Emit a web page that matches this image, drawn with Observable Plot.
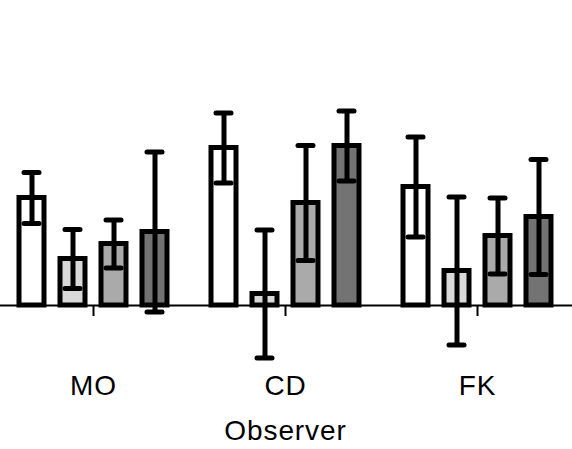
<!DOCTYPE html>
<html><head><meta charset="utf-8">
<script src="https://cdn.jsdelivr.net/npm/d3@7"></script>
<script src="https://cdn.jsdelivr.net/npm/@observablehq/plot@0.6"></script>
<style>body{margin:0;background:#fff;overflow:hidden}</style>
</head><body><div id="chart"></div>
<script>
const observers = ["MO", "CD", "FK"];
const conditions = ["A", "B", "C", "D"];
const fills = ["#ffffff", "#d9d9d9", "#aaaaaa", "#737373"];
const meanMO = [2.15, 0.93, 1.23, 1.47];
const errMO  = [0.51, 0.59, 0.48, 1.60];
const meanCD = [3.15, 0.23, 2.05, 3.19];
const errCD  = [0.70, 1.28, 1.15, 0.70];
const meanFK = [2.37, 0.69, 1.39, 1.77];
const errFK  = [1.00, 1.48, 0.76, 1.15];

const means = [meanMO, meanCD, meanFK];
const errs = [errMO, errCD, errFK];
const data = [];
observers.forEach((o, i) => conditions.forEach((c, j) => {
  data.push({observer: o, condition: c, mean: means[i][j], err: errs[i][j]});
}));

const chart = Plot.plot({
  width: 572,
  height: 449,
  marginTop: 0,
  marginLeft: 0,
  marginRight: 0,
  marginBottom: 144,
  style: {fontFamily: "'Liberation Sans', Arial, Helvetica, sans-serif", background: "#fff", letterSpacing: "0.9px"},
  fx: {domain: observers, range: [-4.25, 573.25], paddingInner: 0, paddingOuter: 0},
  x: {domain: conditions, range: [5.75, 185.75], padding: 0.39, axis: null},
  y: {domain: [-2, 6], range: [405, 5], axis: null},
  color: {domain: conditions, range: fills},
  marks: [
    Plot.barY(data, {fx: "observer", x: "condition", y: "mean", fill: "condition", stroke: "#000", strokeWidth: 5}),
    Plot.ruleY([0], {stroke: "#000", strokeWidth: 2}),
    Plot.ruleX(data, {fx: "observer", x: "condition", y1: d => d.mean - d.err, y2: d => d.mean + d.err, stroke: "#000", strokeWidth: 5}),
    Plot.tickY(data, {fx: "observer", x: "condition", y: d => d.mean - d.err, stroke: "#000", strokeWidth: 5, strokeLinecap: "round", insetLeft: 5, insetRight: 5}),
    Plot.tickY(data, {fx: "observer", x: "condition", y: d => d.mean + d.err, stroke: "#000", strokeWidth: 5, strokeLinecap: "round", insetLeft: 5, insetRight: 5}),
    Plot.axisFx({anchor: "bottom", tickSize: 11, tickPadding: 59, fontSize: 28, strokeWidth: 2, label: "Observer", labelAnchor: "center", labelOffset: 134, color: "#000"})
  ]
});
document.getElementById("chart").append(chart);
</script>
</body></html>
